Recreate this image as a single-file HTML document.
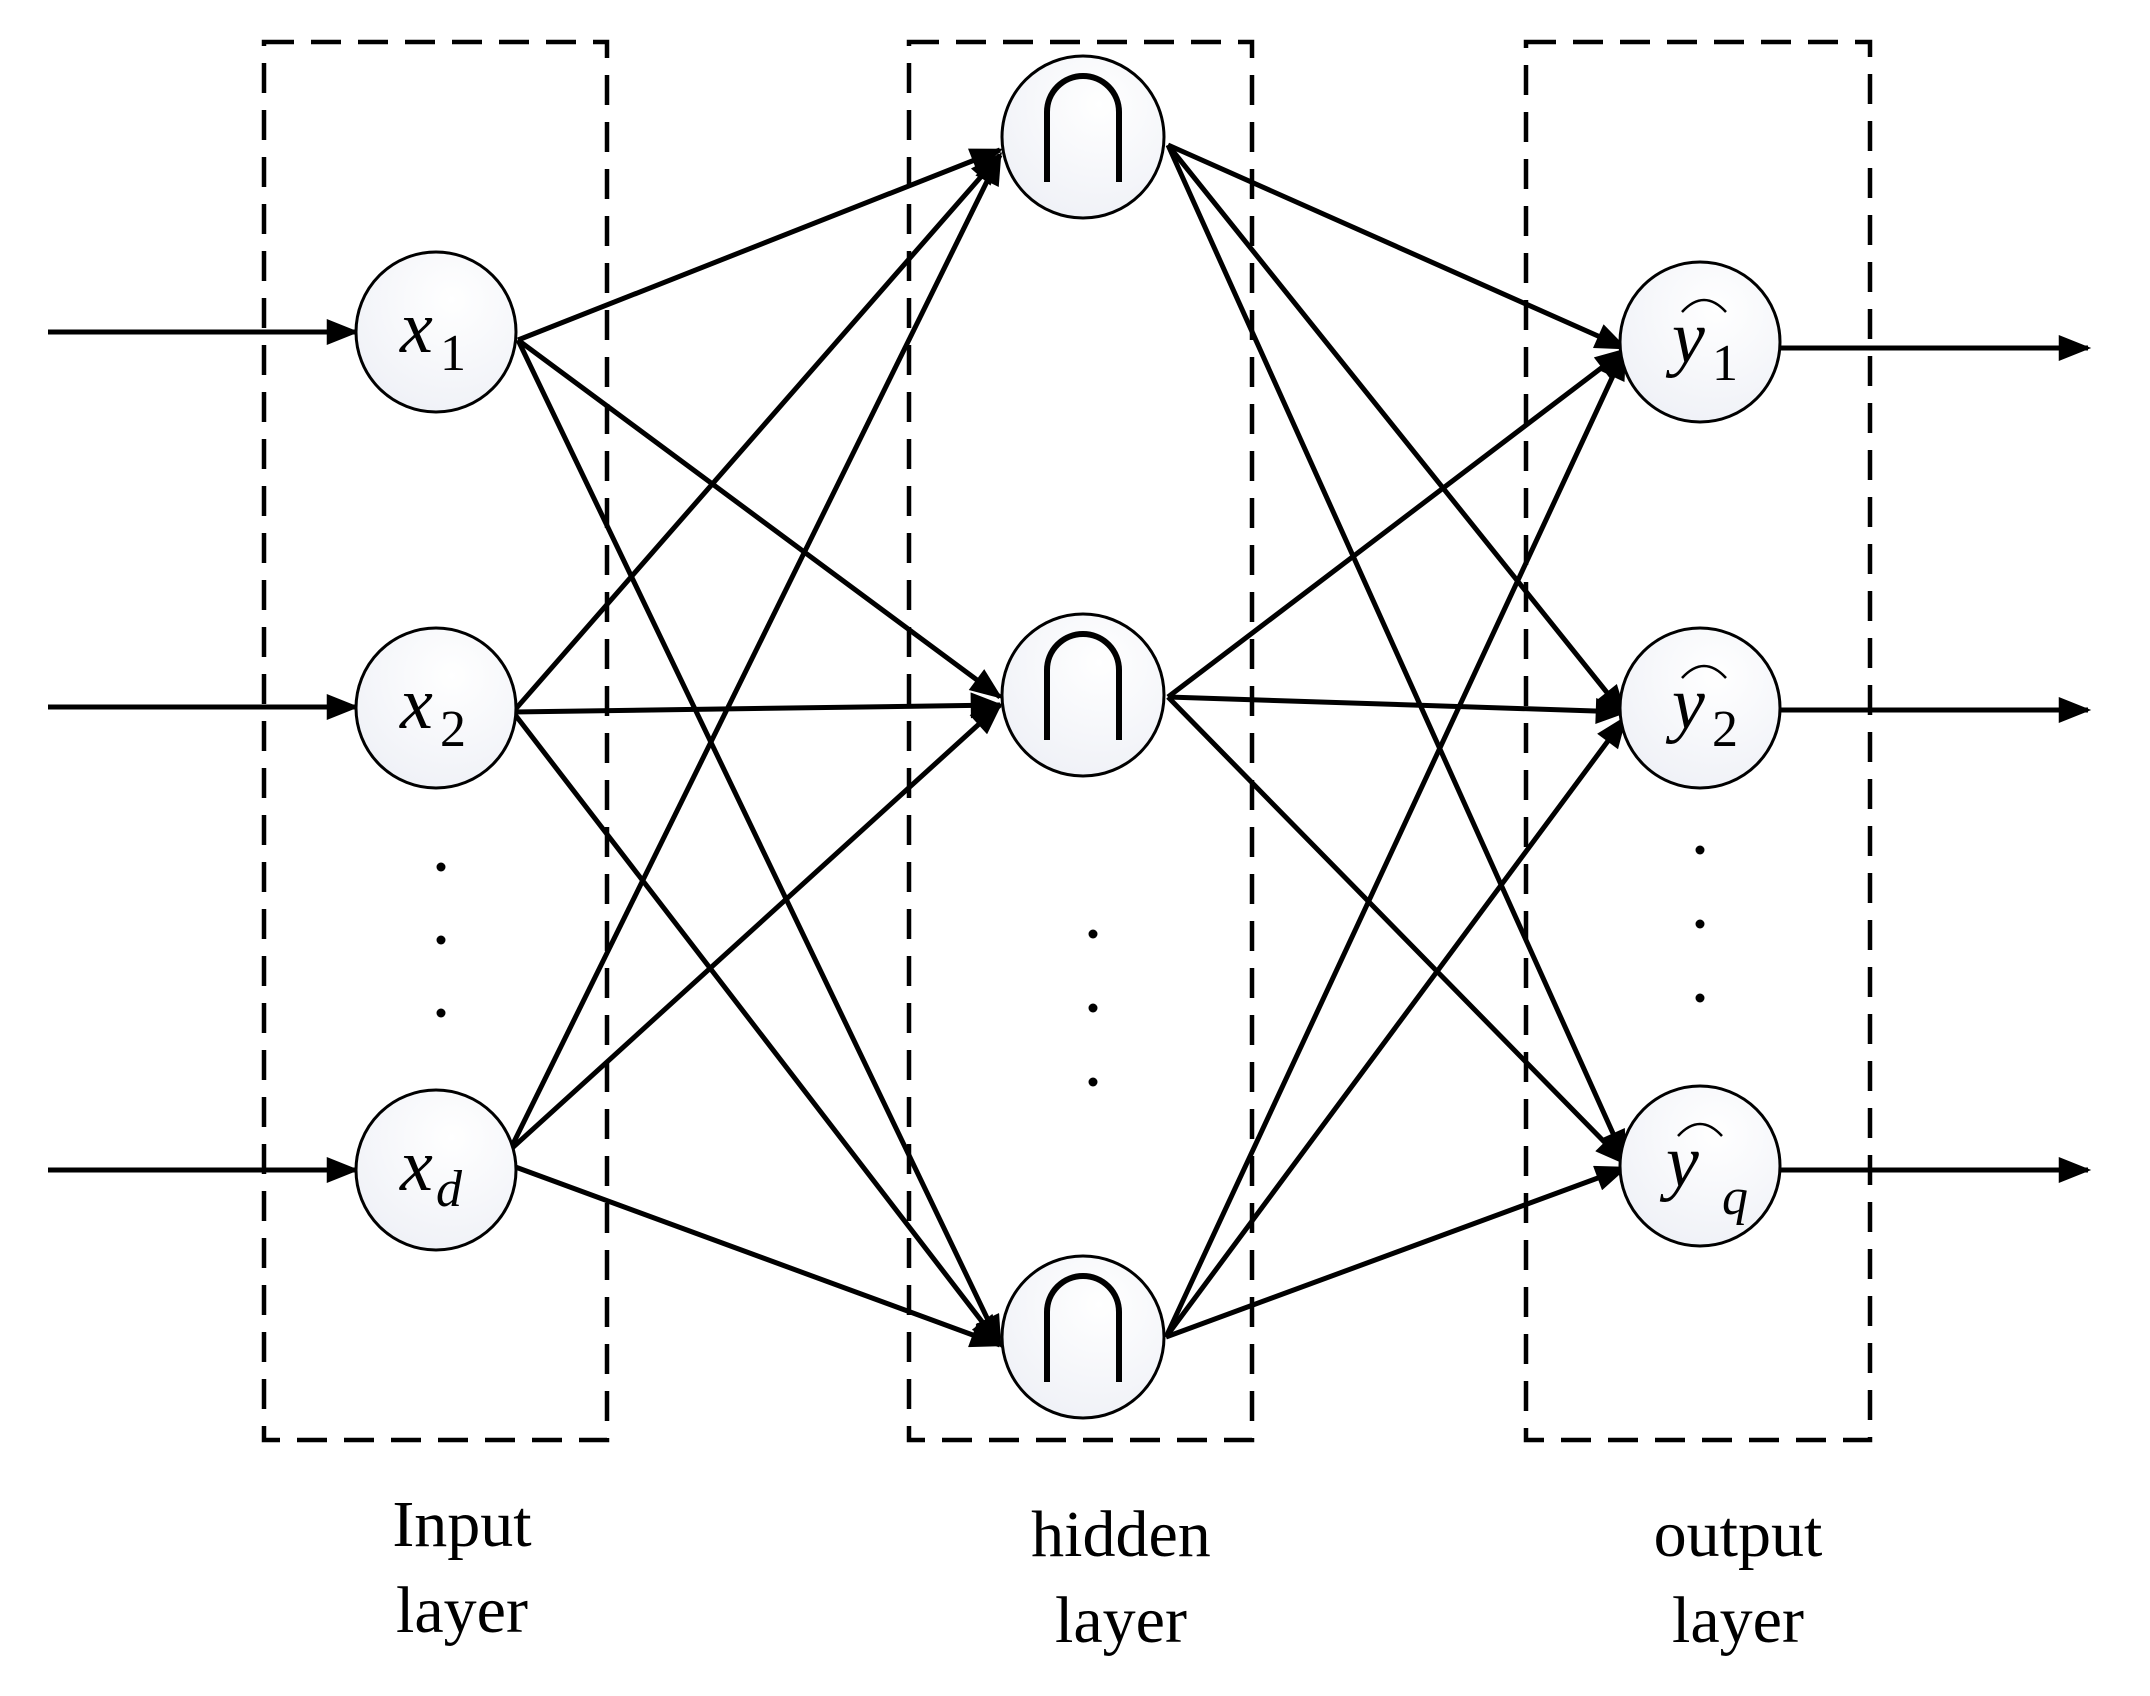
<!DOCTYPE html>
<html><head><style>body{margin:0;background:#fff}</style></head><body>
<svg width="2150" height="1691" viewBox="0 0 2150 1691" xmlns="http://www.w3.org/2000/svg" font-family="Liberation Serif, serif">
<defs>
<marker id="m" viewBox="0 0 10 8" refX="9" refY="4" markerWidth="34" markerHeight="26" orient="auto" markerUnits="userSpaceOnUse"><path d="M0,0 L10,4 L0,8 z"/></marker>
<radialGradient id="g" cx="0.6" cy="0.3" r="0.8"><stop offset="0" stop-color="#ffffff"/><stop offset="1" stop-color="#eef0f6"/></radialGradient>
</defs>
<g fill="none" stroke="#000" stroke-width="4.5" stroke-dasharray="30 17">
<rect x="264" y="42" width="343" height="1398"/>
<rect x="909" y="42" width="343" height="1398"/>
<rect x="1526" y="42" width="344" height="1398"/>
</g>
<g stroke="#000" stroke-width="5" marker-end="url(#m)">
<line x1="48" y1="332" x2="356" y2="332"/>
<line x1="48" y1="707" x2="356" y2="707"/>
<line x1="48" y1="1170" x2="356" y2="1170"/>
<line x1="1780" y1="348" x2="2088" y2="348"/>
<line x1="1780" y1="710" x2="2088" y2="710"/>
<line x1="1780" y1="1170" x2="2088" y2="1170"/>
<line x1="518" y1="340" x2="1000" y2="150"/>
<line x1="518" y1="340" x2="1000" y2="697"/>
<line x1="518" y1="340" x2="1000" y2="1345"/>
<line x1="513" y1="712" x2="1000" y2="155"/>
<line x1="513" y1="712" x2="1000" y2="705"/>
<line x1="513" y1="712" x2="1000" y2="1345"/>
<line x1="510" y1="1150" x2="1000" y2="155"/>
<line x1="510" y1="1150" x2="1000" y2="705"/>
<line x1="510" y1="1165" x2="1000" y2="1345"/>
<line x1="1168" y1="145" x2="1625" y2="348"/>
<line x1="1168" y1="145" x2="1625" y2="715"/>
<line x1="1168" y1="145" x2="1625" y2="1160"/>
<line x1="1168" y1="697" x2="1625" y2="350"/>
<line x1="1168" y1="697" x2="1625" y2="712"/>
<line x1="1168" y1="697" x2="1625" y2="1163"/>
<line x1="1166" y1="1337" x2="1625" y2="350"/>
<line x1="1166" y1="1337" x2="1625" y2="718"/>
<line x1="1166" y1="1337" x2="1625" y2="1168"/>
</g>
<g fill="url(#g)" stroke="#000" stroke-width="3">
<circle cx="436" cy="332" r="80"/>
<circle cx="436" cy="708" r="80"/>
<circle cx="436" cy="1170" r="80"/>
<circle cx="1083" cy="137" r="81"/>
<circle cx="1083" cy="695" r="81"/>
<circle cx="1083" cy="1337" r="81"/>
<circle cx="1700" cy="342" r="80"/>
<circle cx="1700" cy="708" r="80"/>
<circle cx="1700" cy="1166" r="80"/>
</g>
<g fill="none" stroke="#000" stroke-width="6">
<path d="M1047,182 V112 A36,36 0 0 1 1119,112 V182"/>
<path d="M1047,740 V670 A36,36 0 0 1 1119,670 V740"/>
<path d="M1047,1382 V1312 A36,36 0 0 1 1119,1312 V1382"/>
</g>
<g font-size="74">
<text x="400" y="352" font-style="italic">x</text><text x="440" y="370" font-size="52">1</text>
<text x="400" y="728" font-style="italic">x</text><text x="440" y="746" font-size="52">2</text>
<text x="400" y="1190" font-style="italic">x</text><text x="436" y="1206" font-size="52" font-style="italic">d</text>
<text x="1672" y="362" font-style="italic">y</text><text x="1712" y="380" font-size="52">1</text>
<text x="1672" y="728" font-style="italic">y</text><text x="1712" y="746" font-size="52">2</text>
<text x="1666" y="1186" font-style="italic">y</text><text x="1722" y="1214" font-size="52" font-style="italic">q</text>
</g>
<g fill="none" stroke="#000" stroke-width="2.5">
<path d="M1682,312 Q1704,288 1726,312"/>
<path d="M1682,678 Q1704,654 1726,678"/>
<path d="M1678,1136 Q1700,1112 1722,1136"/>
</g>
<g fill="#000">
<circle cx="441" cy="867" r="4.5"/><circle cx="441" cy="940" r="4.5"/><circle cx="441" cy="1013" r="4.5"/>
<circle cx="1093" cy="934" r="4.5"/><circle cx="1093" cy="1008" r="4.5"/><circle cx="1093" cy="1082" r="4.5"/>
<circle cx="1700" cy="850" r="4.5"/><circle cx="1700" cy="924" r="4.5"/><circle cx="1700" cy="998" r="4.5"/>
</g>
<g font-size="66" text-anchor="middle">
<text x="462" y="1546">Input</text><text x="462" y="1632">layer</text>
<text x="1121" y="1556">hidden</text><text x="1121" y="1642">layer</text>
<text x="1738" y="1556">output</text><text x="1738" y="1642">layer</text>
</g>
</svg>
</body></html>
